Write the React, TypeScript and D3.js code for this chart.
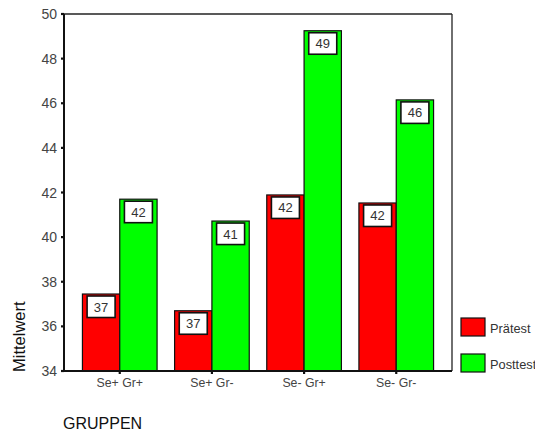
import React from "react";
import * as d3 from "d3";

const categories = ["Se+ Gr+", "Se+ Gr-", "Se- Gr+", "Se- Gr-"];
const series = ["Prätest", "Posttest"];
const praetest = [37.45, 36.7, 41.89, 41.53];
const posttest = [41.7, 40.72, 49.25, 46.15];
const yTicks = [34, 36, 38, 40, 42, 44, 46, 48, 50];
const colors = ["#ff0000", "#00ff00"];

const W = 535;
const H = 431;
const left = 64, right = 452, top = 14, bottom = 371;
const font = "Arial, 'Liberation Sans', sans-serif";

export default function App() {
  const x = d3.scaleBand<string>().domain(categories).range([left, right]).paddingInner(0.19).paddingOuter(0.2);
  const xs = d3.scaleBand<string>().domain(series).range([0, x.bandwidth()]);
  const y = d3.scaleLinear().domain([34, 50]).range([bottom, top]);
  const data = [praetest, posttest];

  return (
    <svg width={W} height={H} style={{ position: "absolute", left: 0, top: 0, background: "#fff" }} fontFamily={font}>
      <rect x={0} y={0} width={W} height={H} fill="#fff" />
      {/* frame */}
      <line x1={left} x2={right} y1={top} y2={top} stroke="#222" strokeWidth={1.3} />
      <line x1={right} x2={right} y1={top} y2={bottom} stroke="#222" strokeWidth={1.3} />
      {/* bars */}
      {categories.map((c, i) => (
        <g key={c}>
          {series.map((s, j) => {
            const v = data[j][i];
            const bx = (x(c) as number) + (xs(s) as number);
            const bw = xs.bandwidth();
            const by = y(v);
            return (
              <g key={s}>
                <rect x={bx} y={by} width={bw} height={bottom - by} fill={colors[j]} stroke="#111" strokeWidth={1.2} />
                <rect x={bx + bw / 2 - 14} y={by + 2} width={28} height={21.5} fill="#fff" stroke="#111" strokeWidth={1.6} />
                <text x={bx + bw / 2} y={by + 17.5} textAnchor="middle" fontSize={13} fill="#333">{Math.round(v)}</text>
              </g>
            );
          })}
        </g>
      ))}
      {/* y axis */}
      <line x1={left} x2={left} y1={top} y2={bottom + 1} stroke="#111" strokeWidth={2} />
      {yTicks.map(t => (
        <g key={t}>
          <line x1={left - 3} x2={left} y1={y(t)} y2={y(t)} stroke="#111" strokeWidth={2.2} />
          <text x={left - 7} y={y(t) + 5} textAnchor="end" fontSize={14} fill="#444">{t}</text>
        </g>
      ))}
      {/* x axis */}
      <line x1={left - 3} x2={right} y1={bottom} y2={bottom} stroke="#111" strokeWidth={2} />
      {categories.map(c => {
        const cx = (x(c) as number) + x.bandwidth() / 2;
        return (
          <g key={c}>
            <line x1={cx} x2={cx} y1={bottom} y2={bottom + 3} stroke="#111" strokeWidth={2.2} />
            <text x={cx} y={387} textAnchor="middle" fontSize={12.3} fill="#444">{c}</text>
          </g>
        );
      })}
      {/* axis titles */}
      <text transform={`translate(25,372) rotate(-90)`} textAnchor="start" fontSize={16.5} fill="#111">Mittelwert</text>
      <text x={63} y={429} fontSize={16} fill="#111">GRUPPEN</text>
      {/* legend */}
      {series.map((s, j) => (
        <g key={s}>
          <rect x={461} y={318 + j * 36} width={24} height={18} fill={colors[j]} stroke="#111" strokeWidth={1.2} />
          <text x={490} y={333 + j * 36} fontSize={12.8} fill="#333">{s}</text>
        </g>
      ))}
    </svg>
  );
}
